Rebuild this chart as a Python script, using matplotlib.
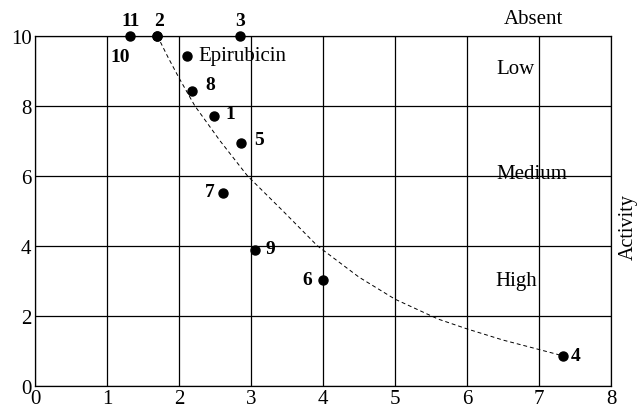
'''Activity map of the compounds with the dashed trend line.'''
import matplotlib as mpl
mpl.use('Agg')
import matplotlib.pyplot as plt

# compound positions
labels = ['11', '2', '3', '10', '8', '1', '5', '7', '9', '6', '4']
xs = [1.32, 1.69, 2.85, 1.69, 2.18, 2.48, 2.86, 2.61, 3.06, 4.0, 7.33]
ys = [10.0, 10.0, 10.0, 10.0, 8.43, 7.71, 6.94, 5.52, 3.89, 3.02, 0.85]
# label offsets in points
offsets = [(0.5, 11.5), (2, 11.5), (0, 11.5), (-26, -15), (13, 4.5),
           (12, 1.5), (13, 2.5), (-9.5, 1), (11, 0.5), (-11, 0), (9, 0)]
ref_name = 'Epirubicin'
ref_x, ref_y = 2.11, 9.43

# dashed trend line
curve_x = [1.70, 1.85, 2.0, 2.22, 2.57, 2.95, 3.45, 3.92, 4.5, 5.0, 5.6,
           6.0, 6.5, 7.0, 7.33]
curve_y = [10.0, 9.38, 8.8, 8.0, 7.0, 6.0, 4.98, 4.0, 3.1, 2.47, 1.9,
           1.62, 1.3, 1.03, 0.85]

# activity classes
classes = ['Absent', 'Low', 'Medium', 'High']
class_x = [6.93, 6.67, 6.9, 6.69]
class_y = [10.5, 9.07, 6.06, 3.0]

plt.rcParams['font.family'] = ['Liberation Serif', 'DejaVu Serif']

fig = plt.figure(figsize=(6.4, 4.1), dpi=100)
ax = fig.add_axes([0.0547, 0.0573, 0.9, 0.8525])
ax.set_xlim(0, 8)
ax.set_ylim(0, 10)
ax.set_xticks(range(0, 9))
ax.set_yticks(range(0, 11, 2))
ax.grid(True, color='black', linewidth=0.9)
for s in ax.spines.values():
    s.set_color('black')
    s.set_linewidth(0.9)
ax.tick_params(length=0, labelsize=15, pad=2.5)

ax.plot(curve_x, curve_y, color='black', linestyle=(0, (4, 3)),
        linewidth=0.7)

ax.plot(xs, ys, 'o', color='black', markersize=6.5, clip_on=False,
        zorder=5)
ax.plot([ref_x], [ref_y], 'o', color='black', markersize=6.5, zorder=5)

for lab, x, y, off in zip(labels, xs, ys, offsets):
    ax.annotate(lab, (x, y), xytext=off, textcoords='offset points',
                ha='center', va='center', fontsize=14, fontweight='bold',
                annotation_clip=False)
ax.annotate(ref_name, (ref_x, ref_y), xytext=(8.5, 0),
            textcoords='offset points', ha='left', va='center',
            fontsize=15)

for name, x, y in zip(classes, class_x, class_y):
    ax.text(x, y, name, ha='center', va='center', fontsize=15, clip_on=False)

ax.text(1.0305, 0.457, 'Activity', transform=ax.transAxes, rotation=90,
        ha='center', va='center', fontsize=14.5)

fig.savefig('out.png', dpi=100)
